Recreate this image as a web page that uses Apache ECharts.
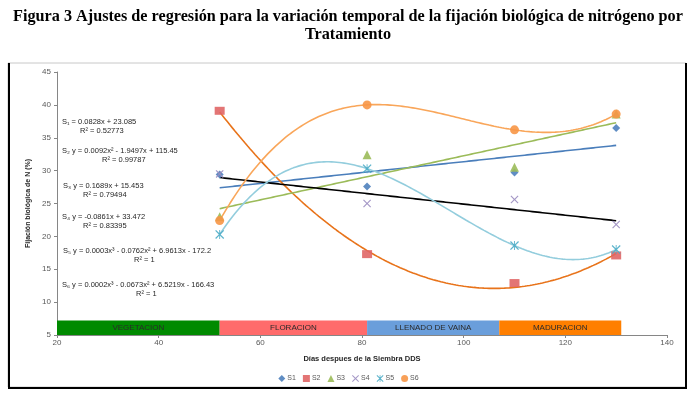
<!DOCTYPE html>
<html>
<head>
<meta charset="utf-8">
<script src="https://cdn.jsdelivr.net/npm/echarts@6/dist/echarts.min.js"></script>
<style>
  html, body { margin: 0; padding: 0; background: #fff; }
  #chart { width: 697px; height: 394px; }
</style>
</head>
<body>
<div id="chart"></div>
<script>
// dias despues de la siembra (DDS)
const dias = [52, 81, 110, 130];
// fijacion biologica de N (%) por tratamiento
const s1 = [29.4, 27.6, 29.7, 36.5];
const s2 = [39.1, 17.3, 12.9, 17.1];
const s3 = [23.0, 32.4, 30.5, 38.6];
const s4 = [29.5, 25.0, 25.6, 21.8];
const s5 = [20.3, 30.3, 18.6, 18.0];
const s6 = [22.4, 40.0, 36.2, 38.6];
const nombres = ['S1', 'S2', 'S3', 'S4', 'S5', 'S6'];
// grado del ajuste de cada tratamiento
const grados = [1, 2, 1, 1, 3, 3];

// etapas fenologicas
const etapas = ['VEGETACION', 'FLORACION', 'LLENADO DE VAINA', 'MADURACION'];
const etapaInicio = [20, 52, 81, 107];
const etapaFin = [52, 81, 107, 131];
const etapaColor = ['#008a00', '#ff6b6b', '#6a9edb', '#ff7f00'];

const ejeY = { min: 5, max: 45, interval: 5 };
const ejeX = { min: 20, max: 140, interval: 20 };

const titulo = [
  'Figura 3 Ajustes de regresión para la variación temporal de la fijación biológica de nitrógeno por',
  'Tratamiento'
];

// ecuaciones que aparecen en el grafico
const ecuaciones = [
  ['S\u2081 = 0.0828x + 23.085', 'R\u00b2 = 0.52773'],
  ['S\u2082 y = 0.0092x\u00b2 - 1.9497x + 115.45', 'R\u00b2 = 0.99787'],
  ['S\u2083 y = 0.1689x + 15.453', 'R\u00b2 = 0.79494'],
  ['S\u2084 y = -0.0861x + 33.472', 'R\u00b2 = 0.83395'],
  ['S\u2085 y = 0.0003x\u00b3 - 0.0762x\u00b2 + 6.9613x - 172.2', 'R\u00b2 = 1'],
  ['S\u2086 y = 0.0002x\u00b3 - 0.0673x\u00b2 + 6.5219x - 166.43', 'R\u00b2 = 1']
];

const datos = [s1, s2, s3, s4, s5, s6];
const colores = ['#4f81bd', '#e06666', '#9bbb59', '#9a8cc0', '#4bacc6', '#f79646'];
const coloresAjuste = ['#4a7ebb', '#e8731a', '#9bbb59', '#000000', '#93cddd', '#f9a65a'];

const simboloX = 'path://M0,1L1,0L5,4L9,0L10,1L6,5L10,9L9,10L5,6L1,10L0,9L4,5Z';
const simboloAst = 'path://M0,1L1,0L5,4L9,0L10,1L6,5L10,9L9,10L5,6L1,10L0,9L4,5Z M4.5,0L5.5,0L5.5,10L4.5,10Z';
const simbolos = ['diamond', 'rect', 'triangle', simboloX, simboloAst, 'circle'];
const tamanos = [8, [10, 8], 9, 8, 9, 9];

// ajuste polinomico por minimos cuadrados (x centrado)
function ajustar(xs, ys, grado) {
  const c = 90, e = 40;
  const n = grado + 1;
  const A = [], b = [];
  for (let i = 0; i < n; i++) {
    A.push(new Array(n).fill(0));
    b.push(0);
  }
  xs.forEach((x, k) => {
    const t = (x - c) / e;
    for (let i = 0; i < n; i++) {
      for (let j = 0; j < n; j++) A[i][j] += Math.pow(t, i + j);
      b[i] += ys[k] * Math.pow(t, i);
    }
  });
  for (let i = 0; i < n; i++) {
    let p = i;
    for (let r = i + 1; r < n; r++) if (Math.abs(A[r][i]) > Math.abs(A[p][i])) p = r;
    [A[i], A[p]] = [A[p], A[i]];
    [b[i], b[p]] = [b[p], b[i]];
    for (let r = i + 1; r < n; r++) {
      const f = A[r][i] / A[i][i];
      for (let j = i; j < n; j++) A[r][j] -= f * A[i][j];
      b[r] -= f * b[i];
    }
  }
  const coef = new Array(n).fill(0);
  for (let i = n - 1; i >= 0; i--) {
    let s = b[i];
    for (let j = i + 1; j < n; j++) s -= A[i][j] * coef[j];
    coef[i] = s / A[i][i];
  }
  return function (x) {
    const t = (x - c) / e;
    let y = 0;
    for (let i = 0; i < n; i++) y += coef[i] * Math.pow(t, i);
    return y;
  };
}

function lineaAjuste(ys, grado) {
  const f = ajustar(dias, ys, grado);
  const x0 = dias[0], x1 = dias[dias.length - 1];
  const pts = [];
  for (let x = x0; x <= x1; x += 0.5) pts.push([x, f(x)]);
  return pts;
}

const series = [];
// lineas de tendencia
datos.forEach((ys, i) => {
  series.push({
    name: 'ajuste' + (i + 1),
    type: 'line',
    data: lineaAjuste(ys, grados[i]),
    showSymbol: false,
    silent: true,
    z: 2,
    lineStyle: { color: coloresAjuste[i], width: 1.6 }
  });
});
// puntos observados
datos.forEach((ys, i) => {
  series.push({
    name: nombres[i],
    type: 'scatter',
    data: dias.map((x, k) => [x, ys[k]]),
    symbol: simbolos[i],
    symbolSize: tamanos[i],
    z: 5,
    itemStyle: { color: colores[i], opacity: 0.9 }
  });
});
// etapas como bandas en la base
series.push({
  name: 'etapas',
  type: 'line',
  data: [],
  silent: true,
  z: 1,
  markArea: {
    silent: true,
    label: { show: true, position: 'inside', fontSize: 8, color: '#2a2a2a', fontFamily: 'Liberation Sans' },
    data: etapas.map((nom, i) => [
      { name: nom, xAxis: etapaInicio[i], yAxis: ejeY.min, itemStyle: { color: etapaColor[i] } },
      { xAxis: etapaFin[i], yAxis: 7.2 }
    ])
  }
});

const graficos = [
  { type: 'rect', shape: { x: 8, y: 63, width: 678, height: 324 }, style: { fill: 'none', stroke: '#c8c8c8', lineWidth: 1 }, z: 0 },
  { type: 'line', shape: { x1: 9, y1: 63, x2: 9, y2: 388 }, style: { stroke: '#000', lineWidth: 2 } },
  { type: 'line', shape: { x1: 686, y1: 63, x2: 686, y2: 388 }, style: { stroke: '#000', lineWidth: 2 } },
  { type: 'line', shape: { x1: 8, y1: 388, x2: 687, y2: 388 }, style: { stroke: '#000', lineWidth: 2 } }
];
titulo.forEach((t, i) => {
  graficos.push({
    type: 'text', x: 348, y: 17 + i * 18, z: 10,
    style: {
      text: t, fontSize: 16.2, fontWeight: 'bold', fontFamily: 'Liberation Serif',
      fill: '#000', align: 'center', verticalAlign: 'middle'
    }
  });
});
const eqY = [122, 151, 186, 217, 251, 285];
const eqX = [62, 62, 63, 62, 63, 62];
const r2X = [80, 102, 83, 83, 134, 136];
ecuaciones.forEach((par, i) => {
  graficos.push({
    type: 'text', x: eqX[i], y: eqY[i], z: 10,
    style: { text: par[0], fontSize: 7.5, fill: '#262626', fontFamily: 'Liberation Sans', verticalAlign: 'middle' }
  });
  graficos.push({
    type: 'text', x: r2X[i], y: eqY[i] + 8.5, z: 10,
    style: { text: par[1], fontSize: 7.5, fill: '#262626', fontFamily: 'Liberation Sans', verticalAlign: 'middle' }
  });
});

const chart = echarts.init(document.getElementById('chart'));
chart.setOption({
  animation: false,
  backgroundColor: '#fff',
  legend: {
    data: nombres,
    top: 370,
    left: 'center',
    itemWidth: 7,
    itemHeight: 7,
    itemGap: 7,
    textStyle: { fontSize: 7, color: '#595959', fontFamily: 'Liberation Sans', padding: [0, 0, 0, -3] }
  },
  grid: { left: 57, right: 30, top: 72, bottom: 59 },
  xAxis: {
    type: 'value',
    min: ejeX.min, max: ejeX.max, interval: ejeX.interval,
    name: 'Días despues de la Siembra DDS',
    nameLocation: 'middle',
    nameGap: 20,
    nameTextStyle: { fontSize: 7.5, fontWeight: 'bold', color: '#262626', fontFamily: 'Liberation Sans' },
    axisLine: { lineStyle: { color: '#868686' } },
    axisTick: { show: true, length: 3, lineStyle: { color: '#868686' } },
    axisLabel: { fontSize: 8, color: '#595959', fontFamily: 'Liberation Sans', margin: 4 },
    splitLine: { show: false }
  },
  yAxis: {
    type: 'value',
    min: ejeY.min, max: ejeY.max, interval: ejeY.interval,
    name: 'Fijación biológica de N (%)',
    nameLocation: 'middle',
    nameGap: 22,
    nameRotate: 90,
    nameTextStyle: { fontSize: 7, fontWeight: 'bold', color: '#262626', fontFamily: 'Liberation Sans' },
    axisLine: { show: true, lineStyle: { color: '#868686' } },
    axisTick: { show: true, length: 3, lineStyle: { color: '#868686' } },
    axisLabel: { fontSize: 8, color: '#595959', fontFamily: 'Liberation Sans', margin: 6 },
    splitLine: { show: false }
  },
  graphic: graficos,
  series: series
});
</script>
</body>
</html>
